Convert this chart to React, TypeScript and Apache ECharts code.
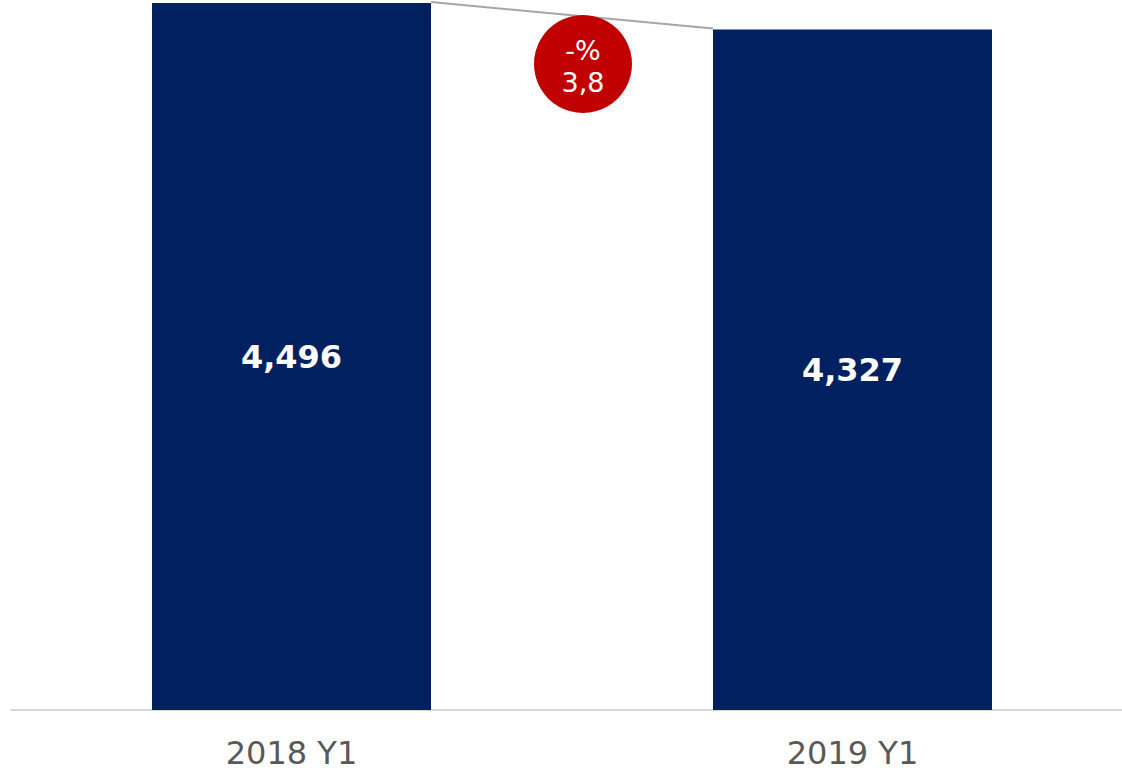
import React, { useEffect, useRef } from "react";
import * as echarts from "echarts";

const categories = ["2018 Y1", "2019 Y1"];
const values = [4496, 4327];
const changeLines = ["-%", "3,8"];

const BAR_COLOR = "#002060";
const FONT = "'DejaVu Sans', Verdana, sans-serif";

export default function App() {
  const ref = useRef<HTMLDivElement>(null);
  useEffect(() => {
    if (!ref.current) return;
    const chart = echarts.init(ref.current, undefined, { renderer: "svg" });
    const barWidth = 279;
    chart.setOption({
      animation: false,
      grid: { left: 11, right: 11, top: 3, bottom: 62, containLabel: false },
      xAxis: {
        type: "category",
        data: categories,
        axisLine: { show: true, lineStyle: { color: "#d9d9d9", width: 2 } },
        axisTick: { show: false },
        axisLabel: { color: "#595959", fontSize: 32, fontFamily: FONT, margin: 27 },
      },
      yAxis: {
        type: "value",
        min: 0,
        max: values[0],
        show: false,
        splitLine: { show: false },
      },
      series: [
        {
          type: "bar",
          data: values,
          barWidth,
          itemStyle: { color: BAR_COLOR },
          label: {
            show: true,
            position: "inside",
            color: "#ffffff",
            fontWeight: "bold",
            fontSize: 32,
            fontFamily: FONT,
            formatter: (p: any) => p.value.toLocaleString("en-US"),
          },
          z: 2,
        },
        {
          type: "custom",
          data: [[0, values[0], 1, values[1]]],
          encode: { x: [0, 2], y: [1, 3] },
          z: 5,
          silent: true,
          renderItem: (params: any, api: any) => {
            const p0 = api.coord([api.value(0), api.value(1)]);
            const p1 = api.coord([api.value(2), api.value(3)]);
            const x0 = p0[0] + barWidth / 2;
            const x1 = p1[0] - barWidth / 2;
            const cx = (x0 + x1) / 2 + 11;
            const cy = p0[1] + 61;
            return {
              type: "group",
              children: [
                {
                  type: "line",
                  shape: { x1: x0, y1: p0[1] - 1, x2: x1, y2: p1[1] - 1 },
                  style: { stroke: "#a6a6a6", lineWidth: 2 },
                },
                {
                  type: "circle",
                  shape: { cx, cy, r: 49 },
                  style: { fill: "#c00000" },
                },
                {
                  type: "text",
                  x: cx,
                  y: cy - 14,
                  style: {
                    text: changeLines[0],
                    fill: "#ffffff",
                    fontSize: 27,
                    fontFamily: FONT,
                    align: "center",
                    verticalAlign: "middle",
                  },
                },
                {
                  type: "text",
                  x: cx,
                  y: cy + 18,
                  style: {
                    text: changeLines[1],
                    fill: "#ffffff",
                    fontSize: 27,
                    fontFamily: FONT,
                    align: "center",
                    verticalAlign: "middle",
                  },
                },
              ],
            };
          },
        },
      ],
    });
    return () => chart.dispose();
  }, []);
  return (
    <div
      style={{ position: "fixed", left: 0, top: 0, width: 1122, height: 772, overflow: "hidden", background: "#ffffff" }}
    >
      <div ref={ref} style={{ width: 1144, height: 772 }} />
    </div>
  );
}
